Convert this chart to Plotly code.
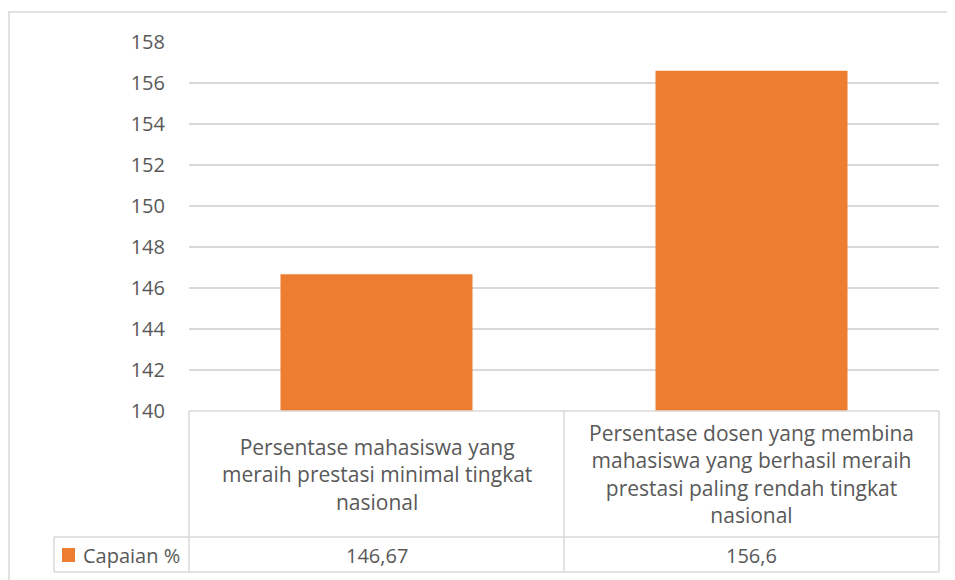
import plotly.graph_objects as go

categories = [
    "Persentase mahasiswa yang<br>meraih prestasi minimal tingkat<br>nasional",
    "Persentase dosen yang membina<br>mahasiswa yang berhasil meraih<br>prestasi paling rendah tingkat<br>nasional",
]
series_name = "Capaian %"
values = [146.67, 156.6]
value_labels = ["146,67", "156,6"]
y_ticks = [140, 142, 144, 146, 148, 150, 152, 154, 156, 158]

W, H = 955, 580
OFF = 8  # page body margin
ORANGE = "#ED7D31"
GRID = "#D9D9D9"
TXT = "#595959"
FONT = "Open Sans"


def px(x):
    return (x - OFF) / W


def py(y):
    return 1 - (y - OFF) / H


fig = go.Figure()
fig.add_trace(go.Bar(x=[0, 1], y=values, marker_color=ORANGE, marker_line_width=0,
                     name=series_name, showlegend=False, hoverinfo="skip"))

shapes = []


def line(x0, y0, x1, y1, w=1.5):
    shapes.append(dict(type="line", xref="paper", yref="paper", x0=px(x0), y0=py(y0),
                       x1=px(x1), y1=py(y1), line=dict(color=GRID, width=w)))


# outer chart border
line(8, 12, 970, 12)
line(9, 12, 9, 600)
# data table
line(189, 411, 939, 411)
line(54, 537, 939, 537)
line(54, 572, 939, 572)
line(54, 537, 54, 572)
line(189, 411, 189, 572)
line(564, 411, 564, 572)
line(939, 411, 939, 572)
# legend key
shapes.append(dict(type="rect", xref="paper", yref="paper", x0=px(62), x1=px(75),
                   y0=py(562), y1=py(548), fillcolor=ORANGE, line=dict(width=0)))

annotations = []
for i, (c, v) in enumerate(zip(categories, value_labels)):
    annotations.append(dict(x=i, xref="x", y=py(474), yref="paper", text=c, showarrow=False,
                            font=dict(family=FONT, size=21, color=TXT), align="center",
                            xanchor="center", yanchor="middle"))
    annotations.append(dict(x=i, xref="x", y=py(555), yref="paper", text=v, showarrow=False,
                            font=dict(family=FONT, size=20, color=TXT),
                            xanchor="center", yanchor="middle"))
annotations.append(dict(x=px(81), xref="paper", y=py(555), yref="paper", text=series_name,
                        showarrow=False, font=dict(family=FONT, size=20, color=TXT),
                        xanchor="left", yanchor="middle"))

fig.update_layout(
    template="none",
    width=W, height=H, margin=dict(l=0, r=0, t=0, b=0, autoexpand=False),
    paper_bgcolor="white", plot_bgcolor="white",
    bargap=0.488, shapes=shapes, annotations=annotations,
    font=dict(family=FONT, size=20, color=TXT),
    xaxis=dict(domain=[px(189), px(939)], range=[-0.5, 1.5], showticklabels=False,
               showgrid=False, zeroline=False, showline=False, ticks="", automargin=False,
               fixedrange=True),
    yaxis=dict(domain=[py(411), py(42)], range=[140, 158], tickvals=y_ticks,
               showgrid=True, gridcolor=GRID, gridwidth=1.5, zeroline=False, showline=False,
               ticks="", ticklabelstandoff=23, automargin=False,
               tickfont=dict(family=FONT, size=20, color=TXT)),
)
fig.write_html("out.html")
